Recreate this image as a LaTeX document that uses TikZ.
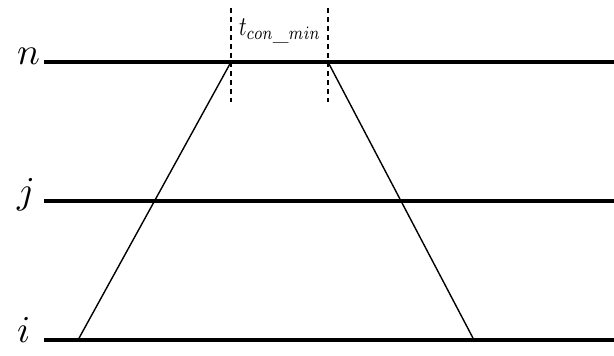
\documentclass[tikz,border=0pt]{standalone}
\usepackage{graphicx}
\usepackage{tikz}
\usetikzlibrary{positioning}

\begin{document}
\begin{tikzpicture}[x=1pt, y=-1pt,
  level line/.style={line width=3.2pt, black},
  slant line/.style={line width=1.4pt, black},
  bound line/.style={line width=1.2pt, black, dash pattern=on 5pt off 4pt},
  level label/.style={anchor=mid west, inner sep=0pt}
]
  \useasboundingbox (0,0) rectangle (614,356);

  % Levels
  \foreach \lab/\y in {n/62, j/201, i/340} {
    \node[level label] (\lab-label) at (17,\y) {\scalebox{3.8}{$\lab$}};
    \coordinate (\lab-start) at (44,\y);
    \coordinate (\lab-end) at (614,\y);
    \draw[level line] (\lab-start) -- (\lab-end);
  }

  % Slanted lines
  \coordinate (left-low) at (78,340);
  \coordinate (left-top) at (231,62);
  \coordinate (right-top) at (328,62);
  \coordinate (right-low) at (474,340);
  \draw[slant line] (left-low) -- (left-top);
  \draw[slant line] (right-top) -- (right-low);

  % Minimum interval
  \coordinate (tmin-a1) at (231,8);
  \coordinate (tmin-a2) at (231,102);
  \coordinate (tmin-b1) at (328,8);
  \coordinate (tmin-b2) at (328,102);
  \draw[bound line] (tmin-a1) -- (tmin-a2);
  \draw[bound line] (tmin-b1) -- (tmin-b2);
  \node (tmin) at (280,31) {\scalebox{2.1}[2.7]{$t_{con\_min}$}};

\end{tikzpicture}
\end{document}
